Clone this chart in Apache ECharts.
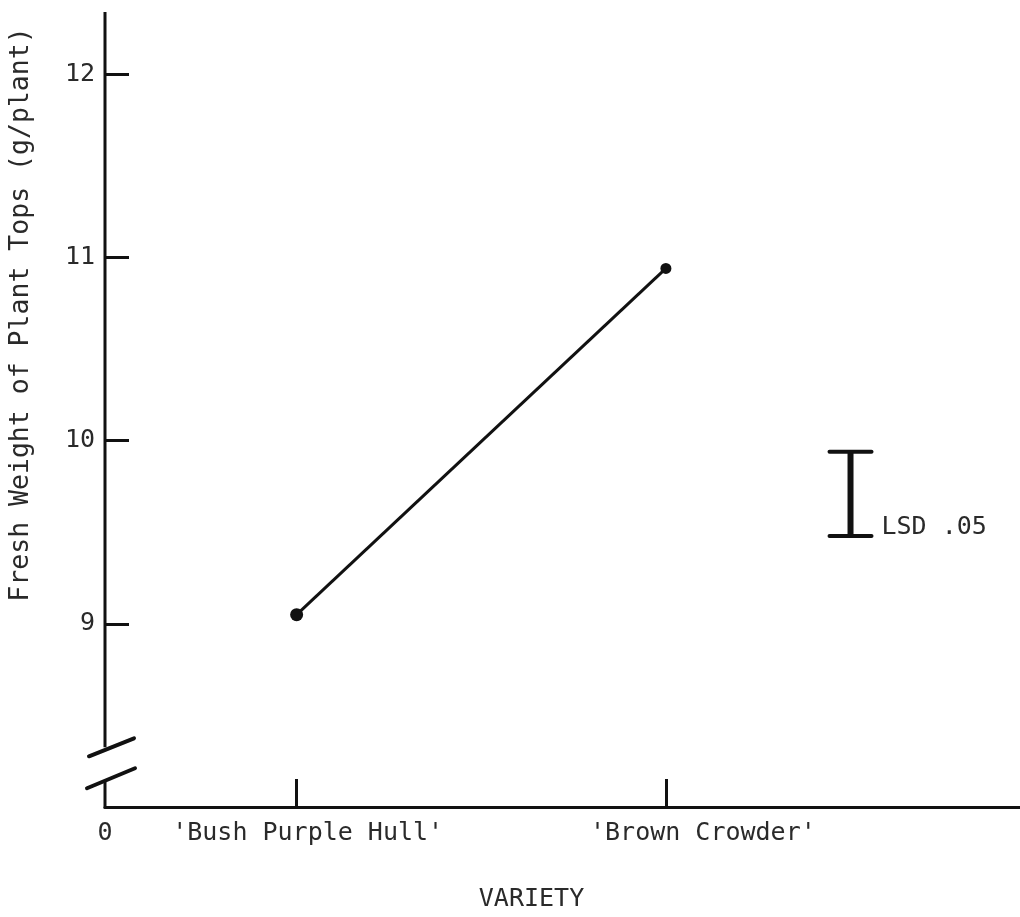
<!DOCTYPE html>
<html>
<head>
<meta charset="utf-8">
<script src="https://cdn.jsdelivr.net/npm/echarts@6/dist/echarts.min.js"></script>
<style>
html,body{margin:0;padding:0;background:#fff;}
#chart{width:1020px;height:917px;}
</style>
</head>
<body>
<div id="chart"></div>
<script>
// ---- data ----
const categories = ["'Bush Purple Hull'", "'Brown Crowder'"];
const freshWeight = [9.05, 10.94];
const yTicks = [9, 10, 11, 12];
const lsdLow = 9.48;
const lsdHigh = 9.94;
const lsdLabel = 'LSD .05';
const yTitle = 'Fresh Weight of Plant Tops (g/plant)';
const xTitle = 'VARIETY';

// ---- layout constants ----
const FONT = 'DejaVu Sans Mono';
const INK = '#111';
const TXT = '#2a2a2a';
const X_MIN = -0.519, X_MAX = 1.959;
const Y_MIN = 8, Y_MAX = 12.34;
const LSD_X = 1.5;
const BREAK_TOP = 8.326, BREAK_BOTTOM = 8.146;
const LABEL_STYLES = ['c0', 'c1'];

const chart = echarts.init(document.getElementById('chart'), null, {renderer: 'canvas'});

const option = {
  backgroundColor: '#fff',
  animation: false,
  grid: {left: 103, right: 0, top: 12, bottom: 105, containLabel: false},
  xAxis: {
    type: 'value', min: X_MIN, max: X_MAX,
    name: xTitle, nameLocation: 'middle', nameGap: 80,
    nameTextStyle: {fontFamily: FONT, fontSize: 25, color: TXT, padding: [0, 62, 0, 0]},
    axisLine: {show: true, onZero: false, lineStyle: {color: INK, width: 3}},
    axisTick: {show: true, inside: true, length: 28, lineStyle: {color: INK, width: 3}, customValues: [0, 1]},
    axisLabel: {
      show: true, margin: 14, fontFamily: FONT, fontSize: 25, color: TXT,
      customValues: [X_MIN, 0, 1],
      formatter: v => {
        if (v < -0.1) return '0';
        const i = Math.round(v);
        return '{' + LABEL_STYLES[i] + '|' + categories[i] + '}';
      },
      rich: {
        c0: {fontFamily: FONT, fontSize: 25, color: TXT, padding: [0, 0, 0, 22]},
        c1: {fontFamily: FONT, fontSize: 25, color: TXT, padding: [0, 0, 0, 74]}
      }
    },
    splitLine: {show: false}
  },
  yAxis: {
    type: 'value', min: Y_MIN, max: Y_MAX,
    name: yTitle, nameLocation: 'middle', nameGap: 70, nameRotate: 90,
    nameTextStyle: {fontFamily: FONT, fontSize: 26.5, color: TXT, padding: [0, 0, 0, 190]},
    axisLine: {show: false, onZero: false},
    axisTick: {show: true, inside: true, length: 24, lineStyle: {color: INK, width: 3}, customValues: yTicks},
    axisLabel: {show: true, margin: 10, fontFamily: FONT, fontSize: 25, color: TXT, customValues: yTicks},
    splitLine: {show: false}
  },
  series: [
    {
      type: 'line',
      data: freshWeight.map((v, i) => [i, v]),
      lineStyle: {color: INK, width: 3},
      itemStyle: {color: INK},
      symbol: 'circle',
      symbolSize: (val, p) => p.dataIndex === 0 ? 13 : 11,
      showSymbol: true, z: 3
    },
    {
      type: 'custom',
      data: [[LSD_X, lsdLow, lsdHigh]],
      renderItem: function (params, api) {
        const lo = api.coord([api.value(0), api.value(1)]);
        const hi = api.coord([api.value(0), api.value(2)]);
        const half = 21;
        return {
          type: 'group',
          children: [
            {type: 'line', shape: {x1: lo[0], y1: lo[1], x2: hi[0], y2: hi[1]}, style: {stroke: INK, lineWidth: 6}},
            {type: 'line', shape: {x1: hi[0] - half, y1: hi[1], x2: hi[0] + half, y2: hi[1]}, style: {stroke: INK, lineWidth: 4, lineCap: 'round'}},
            {type: 'line', shape: {x1: lo[0] - half, y1: lo[1], x2: lo[0] + half, y2: lo[1]}, style: {stroke: INK, lineWidth: 4, lineCap: 'round'}},
            {type: 'text', style: {text: lsdLabel, x: lo[0] + 31, y: lo[1] + 4, textAlign: 'left', textVerticalAlign: 'bottom', fontFamily: FONT, fontSize: 25, fill: TXT}}
          ]
        };
      }
    }
  ]
};
chart.setOption(option);

// y axis line with a break
function axisGraphics() {
  const top = chart.convertToPixel({gridIndex: 0}, [X_MIN, Y_MAX]);
  const bt = chart.convertToPixel({gridIndex: 0}, [X_MIN, BREAK_TOP]);
  const bb = chart.convertToPixel({gridIndex: 0}, [X_MIN, BREAK_BOTTOM]);
  const org = chart.convertToPixel({gridIndex: 0}, [X_MIN, Y_MIN]);
  const ls = {stroke: INK, lineWidth: 3};
  const slash = {stroke: INK, lineWidth: 4, lineCap: 'round'};
  return [
    {type: 'line', shape: {x1: top[0], y1: top[1], x2: bt[0], y2: bt[1]}, style: ls},
    {type: 'line', shape: {x1: bb[0], y1: bb[1], x2: org[0], y2: org[1] + 1.5}, style: ls},
    {type: 'line', shape: {x1: bt[0] - 16, y1: bt[1] + 9, x2: bt[0] + 29, y2: bt[1] - 9}, style: slash},
    {type: 'line', shape: {x1: bb[0] - 18, y1: bb[1] + 8, x2: bb[0] + 30, y2: bb[1] - 12}, style: slash}
  ];
}
chart.setOption({graphic: axisGraphics()});
</script>
</body>
</html>
